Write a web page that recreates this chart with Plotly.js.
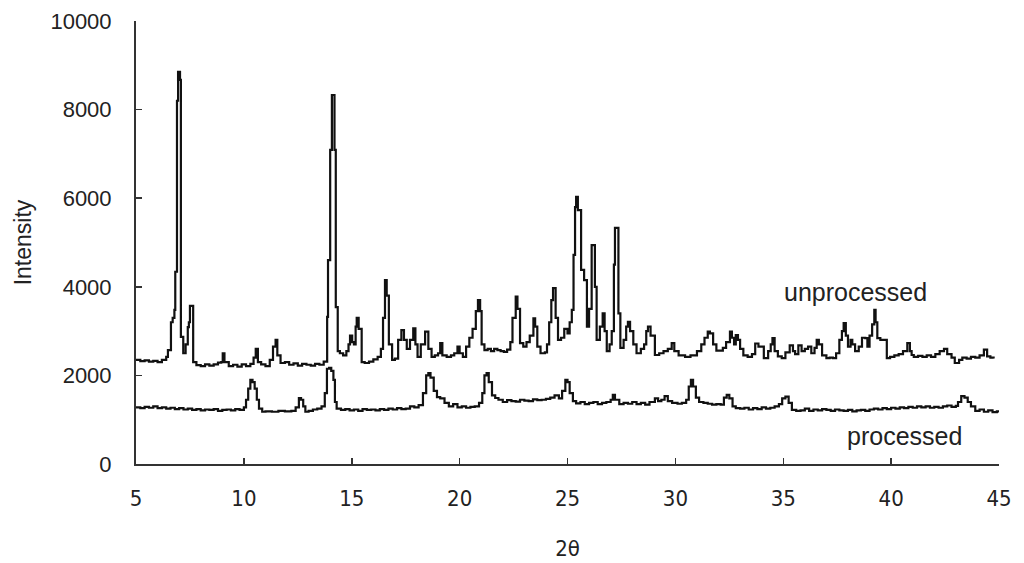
<!DOCTYPE html>
<html>
<head>
<meta charset="utf-8">
<script src="https://cdn.plot.ly/plotly-3.0.1.min.js"></script>
<style>html,body{margin:0;padding:0;background:#fff;}#chart{width:1024px;height:563px;}</style>
</head>
<body>
<div id="chart"></div>
<script>
// 2θ positions and intensities
const unprocessedX = [5.0,5.2,5.4,5.6,5.8,6.0,6.2,6.4,6.48,6.62,6.7,6.78,6.82,6.88,6.9,6.95,7.0,7.04,7.08,7.19,7.3,7.4,7.45,7.5,7.58,7.65,7.8,8.0,8.2,8.4,8.6,8.8,8.95,9.02,9.1,9.3,9.5,9.7,9.9,10.1,10.3,10.45,10.55,10.65,10.8,11.0,11.2,11.35,11.47,11.55,11.7,11.9,12.1,12.3,12.5,12.7,12.9,13.1,13.3,13.5,13.7,13.86,13.9,14.0,14.08,14.15,14.2,14.22,14.26,14.35,14.45,14.6,14.75,14.85,14.92,15.02,15.1,15.18,15.23,15.32,15.46,15.6,15.8,16.0,16.2,16.35,16.45,16.54,16.62,16.72,16.87,17.0,17.15,17.3,17.42,17.55,17.7,17.85,17.95,18.05,18.2,18.4,18.55,18.7,18.85,19.0,19.1,19.2,19.4,19.6,19.75,19.9,20.0,20.15,20.3,20.45,20.6,20.75,20.85,20.95,21.02,21.15,21.3,21.45,21.6,21.75,21.9,22.05,22.2,22.35,22.45,22.6,22.68,22.8,22.95,23.1,23.25,23.42,23.5,23.6,23.75,23.95,24.05,24.15,24.25,24.33,24.45,24.56,24.7,24.85,25.0,25.1,25.2,25.28,25.35,25.4,25.48,25.53,25.63,25.77,25.9,26.0,26.12,26.2,26.27,26.35,26.5,26.63,26.72,26.82,26.95,27.05,27.15,27.2,27.28,27.36,27.45,27.6,27.72,27.8,27.9,28.05,28.2,28.4,28.55,28.65,28.73,28.85,29.05,29.25,29.45,29.65,29.83,29.95,30.15,30.45,30.7,31.0,31.2,31.35,31.5,31.6,31.75,31.9,32.05,32.2,32.35,32.53,32.62,32.72,32.8,32.9,33.0,33.15,33.35,33.55,33.7,33.85,34.0,34.1,34.3,34.42,34.5,34.6,34.75,34.93,35.1,35.3,35.45,35.55,35.7,35.85,36.0,36.15,36.3,36.45,36.55,36.65,36.8,37.0,37.15,37.3,37.45,37.6,37.72,37.8,37.9,38.0,38.12,38.2,38.33,38.5,38.65,38.8,38.9,39.0,39.12,39.22,39.28,39.36,39.5,39.65,39.8,39.95,40.15,40.35,40.55,40.75,40.87,40.95,41.05,41.25,41.45,41.65,41.85,42.05,42.25,42.45,42.6,42.8,42.95,43.15,43.3,43.5,43.7,43.9,44.1,44.3,44.45,44.6,44.75,44.9,45.0];
const unprocessedY = [2350,2320,2340,2310,2330,2300,2350,2420,2570,3200,3300,3480,4340,4340,8200,8850,8850,8670,2870,2500,2700,3090,3200,3570,3570,2300,2230,2210,2250,2220,2250,2290,2300,2500,2300,2210,2240,2200,2250,2210,2260,2400,2600,2300,2250,2210,2350,2650,2800,2450,2280,2300,2240,2270,2220,2260,2240,2220,2260,2240,2310,3320,4600,7090,8330,8330,7090,7090,3540,2550,2500,2450,2550,2700,2900,2750,2700,3100,3300,3050,2300,2280,2310,2360,2420,2600,3300,4150,3800,2700,2350,2380,2800,3020,2800,2600,2800,3060,2700,2420,2700,2990,2600,2420,2450,2500,2730,2450,2420,2450,2500,2650,2500,2420,2650,2850,3050,3450,3700,3450,2700,2570,2600,2550,2600,2570,2550,2530,2580,2750,3300,3780,3500,2730,2650,2750,2900,3290,3100,2650,2500,2520,2700,3200,3700,3970,3300,2800,2850,3050,2950,3200,3480,4720,5800,6030,5730,5730,4380,4150,3100,3500,4940,4940,4000,2800,3100,3400,3000,2550,2700,3000,4500,5330,5330,3400,2620,2800,3100,3210,3000,2700,2500,2600,2700,3000,3100,2900,2460,2500,2550,2600,2730,2550,2450,2420,2450,2550,2700,2850,2990,2950,2700,2560,2560,2620,2750,2990,2850,2700,2910,2800,2600,2450,2420,2480,2720,2650,2650,2390,2550,2700,2840,2550,2430,2390,2520,2680,2550,2480,2680,2550,2600,2650,2500,2620,2800,2700,2450,2390,2400,2390,2500,2800,3000,3180,2900,2650,2800,2700,2550,2650,2850,2840,2650,2900,3150,3480,3200,2840,2800,2800,2390,2420,2450,2480,2550,2730,2550,2460,2420,2440,2420,2450,2420,2480,2550,2600,2480,2400,2280,2350,2400,2380,2420,2400,2450,2580,2430,2400,2380];

const processedX = [5.0,5.2,5.4,5.6,5.8,6.0,6.2,6.4,6.6,6.8,7.0,7.2,7.4,7.6,7.8,8.0,8.2,8.4,8.6,8.8,9.0,9.2,9.4,9.6,9.8,10.0,10.1,10.2,10.3,10.4,10.5,10.6,10.7,10.85,11.0,11.3,11.6,11.9,12.2,12.4,12.55,12.65,12.75,12.85,13.0,13.2,13.4,13.6,13.75,13.85,13.95,14.05,14.15,14.22,14.3,14.5,14.7,14.9,15.1,15.3,15.5,15.7,15.9,16.1,16.3,16.5,16.7,16.9,17.1,17.3,17.5,17.7,17.9,18.1,18.3,18.45,18.55,18.65,18.8,18.95,19.1,19.3,19.5,19.7,19.9,20.1,20.3,20.5,20.7,20.9,21.05,21.15,21.25,21.35,21.5,21.65,21.8,22.0,22.2,22.4,22.6,22.8,23.0,23.2,23.4,23.6,23.8,24.0,24.2,24.4,24.6,24.75,24.9,25.0,25.1,25.25,25.4,25.6,25.8,26.0,26.2,26.4,26.6,26.8,27.0,27.1,27.2,27.4,27.6,27.8,28.0,28.2,28.4,28.6,28.8,29.05,29.2,29.35,29.5,29.65,29.85,30.1,30.3,30.5,30.62,30.72,30.82,30.95,31.1,31.3,31.5,31.7,31.9,32.1,32.25,32.38,32.5,32.65,32.8,33.0,33.2,33.4,33.6,33.8,34.0,34.2,34.4,34.6,34.8,34.95,35.1,35.25,35.4,35.6,35.8,36.0,36.2,36.4,36.6,36.8,37.0,37.2,37.4,37.6,37.8,38.0,38.2,38.4,38.6,38.8,39.0,39.2,39.4,39.6,39.8,40.0,40.2,40.4,40.6,40.8,41.0,41.2,41.4,41.6,41.8,42.0,42.2,42.4,42.6,42.8,43.0,43.1,43.25,43.4,43.55,43.7,43.9,44.1,44.3,44.5,44.7,44.9,45.0];
const processedY = [1280,1260,1290,1270,1300,1260,1280,1250,1270,1240,1260,1230,1250,1220,1240,1210,1230,1220,1240,1200,1220,1230,1210,1240,1220,1280,1450,1700,1900,1850,1700,1450,1250,1180,1190,1180,1200,1190,1200,1280,1490,1450,1300,1180,1200,1230,1250,1300,1600,2150,2170,2100,1900,1400,1250,1220,1240,1210,1230,1200,1240,1220,1230,1210,1240,1220,1250,1230,1260,1240,1250,1300,1280,1330,1600,2000,2050,1950,1650,1510,1480,1380,1300,1350,1280,1300,1270,1290,1300,1380,1600,2000,2050,1850,1550,1490,1450,1400,1440,1420,1410,1450,1430,1420,1460,1440,1450,1470,1500,1550,1480,1650,1900,1850,1600,1420,1370,1400,1350,1380,1400,1350,1380,1400,1450,1560,1450,1350,1380,1360,1400,1350,1380,1340,1400,1480,1420,1450,1530,1420,1380,1360,1380,1450,1750,1900,1750,1500,1400,1380,1360,1340,1350,1340,1500,1560,1480,1300,1260,1250,1270,1230,1260,1240,1280,1250,1270,1300,1350,1480,1520,1380,1220,1200,1210,1250,1200,1230,1210,1240,1220,1200,1230,1210,1200,1220,1190,1210,1220,1200,1230,1250,1230,1260,1240,1270,1250,1280,1260,1290,1270,1300,1280,1300,1270,1290,1270,1300,1320,1290,1310,1400,1530,1500,1400,1300,1200,1230,1180,1210,1170,1190,1170];

const xTicks = [5,10,15,20,25,30,35,40,45];
const yTicks = [0,2000,4000,6000,8000,10000];
const seriesLabels = ['unprocessed','processed'];

const lineStyle = {color:'#111111', width:2.2, shape:'hv'};
const traces = [
  {x: unprocessedX, y: unprocessedY, type:'scatter', mode:'lines', line: lineStyle, name: seriesLabels[0], hoverinfo:'skip'},
  {x: processedX, y: processedY, type:'scatter', mode:'lines', line: lineStyle, name: seriesLabels[1], hoverinfo:'skip'}
];

const fontFam = 'Liberation Sans, Arial, sans-serif';
const narrowFam = 'Liberation Sans Narrow, DejaVu Sans Condensed, Liberation Sans, Arial, sans-serif';
const layout = {
  width: 1024, height: 563,
  margin: {l:136, r:25, t:21, b:99, pad:0},
  paper_bgcolor:'#ffffff', plot_bgcolor:'#ffffff',
  showlegend:false,
  font:{family:fontFam, color:'#222222', size:19},
  xaxis:{
    range:[5,45], tickvals:xTicks, ticktext:xTicks.map(String),
    showline:true, linecolor:'#333333', linewidth:2, mirror:false,
    ticks:'inside', ticklen:6, tickwidth:1.5, tickcolor:'#333333',
    showgrid:false, zeroline:false,
    tickfont:{family:narrowFam, size:22, color:'#222222'},
    ticklabelstandoff:14,
    title:{text:'2θ', font:{family:narrowFam, size:22, color:'#222222'}, standoff:30}
  },
  yaxis:{
    range:[0,10000], tickvals:yTicks, ticktext:yTicks.map(String),
    showline:true, linecolor:'#333333', linewidth:2, mirror:false,
    ticks:'inside', ticklen:6, tickwidth:1.5, tickcolor:'#333333',
    showgrid:false, zeroline:false,
    tickfont:{family:fontFam, size:22, color:'#222222'},
    ticklabelstandoff:18,
    title:{text:'Intensity', font:{family:fontFam, size:23, color:'#222222'}, standoff:12}
  },
  annotations:[
    {x:38.37, y:3880, xref:'x', yref:'y', text:seriesLabels[0], showarrow:false, font:{family:fontFam, size:25, color:'#222222'}},
    {x:40.6, y:632, xref:'x', yref:'y', text:seriesLabels[1], showarrow:false, font:{family:fontFam, size:25, color:'#222222'}}
  ]
};

Plotly.newPlot('chart', traces, layout, {staticPlot:true, displayModeBar:false});
</script>
</body>
</html>
